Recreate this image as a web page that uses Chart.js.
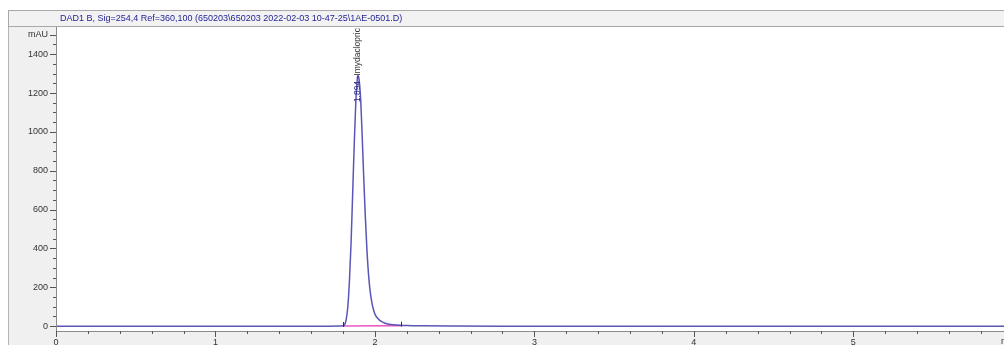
<!DOCTYPE html>
<html>
<head>
<meta charset="utf-8">
<script src="https://cdn.jsdelivr.net/npm/chart.js@4.4.1/dist/chart.umd.min.js"></script>
<style>
  html, body { margin: 0; padding: 0; background: #ffffff; }
  #wrap { width: 1004px; height: 345px; }
</style>
</head>
<body>
<div id="wrap"><canvas id="chromChart" width="1004" height="345"></canvas></div>
<script>
const TITLE = 'DAD1 B, Sig=254,4 Ref=360,100 (650203\\650203 2022-02-03 10-47-25\\1AE-0501.D)';

// retention time (min) and detector signal (mAU)
const times = [0, 0.5, 1.0, 1.5, 1.70, 1.78, 1.80, 1.81, 1.82, 1.83, 1.84, 1.85, 1.86, 1.87, 1.88, 1.89, 1.894,
    1.90, 1.91, 1.92, 1.93, 1.94, 1.95, 1.96, 1.97, 1.98, 1.99, 2.00, 2.02, 2.04, 2.06, 2.08, 2.10, 2.15,
    2.20, 2.30, 2.50, 2.80, 3.5, 4.5, 5.945];
const signal = [0, 0, 0, 0, 0, 0.5, 2, 8, 35, 100, 230, 420, 670, 930, 1150, 1275, 1290,
    1275, 1175, 980, 760, 560, 390, 265, 180, 125, 88, 62, 38, 24, 16, 11, 8, 5,
    3, 1.5, 0.5, 0, 0, 0, 0];

// integration baseline (start / end of the peak)
const baseTimes = [1.80, 2.163];
const baseValues = [1, 2.5];

const peakRT = 1.894;
const peakName = 'Imydaclopric';

const FONT = { family: "'Liberation Sans', Arial, sans-serif", size: 9 };
const TICK_COLOR = '#555555';

const isMultiple = (v, step) => Math.abs(v / step - Math.round(v / step)) < 1e-6;

const framePlugin = {
    id: 'frame',
    beforeDraw(chart) {
        const { ctx, chartArea: a } = chart;
        ctx.save();
        ctx.fillStyle = '#ffffff';
        ctx.fillRect(0, 0, chart.width, chart.height);
        ctx.fillStyle = '#f0f0f0';
        ctx.fillRect(8, 27, chart.width - 8, chart.height - 27);
        ctx.strokeStyle = '#b4b4b4';
        ctx.lineWidth = 1;
        ctx.beginPath();
        ctx.moveTo(8.5, 27);
        ctx.lineTo(8.5, chart.height);
        ctx.stroke();
        ctx.fillStyle = '#ffffff';
        ctx.fillRect(a.left, a.top, a.right - a.left, a.bottom - a.top);

        // title bar
        ctx.fillStyle = '#f2f2f2';
        ctx.fillRect(8, 10, chart.width - 8, 17);
        ctx.strokeStyle = '#a8a8a8';
        ctx.strokeRect(8.5, 10.5, chart.width - 8, 16);
        ctx.fillStyle = '#1e1e96';
        ctx.font = "9px 'Liberation Sans', Arial, sans-serif";
        ctx.textBaseline = 'middle';
        ctx.textAlign = 'left';
        ctx.fillText(TITLE, 60, 19);
        ctx.restore();
    },
    afterDraw(chart) {
        const { ctx, chartArea: a, scales: { x, y } } = chart;
        ctx.save();
        ctx.strokeStyle = '#8a8a8a';
        ctx.lineWidth = 1;
        ctx.beginPath();
        ctx.moveTo(a.left + 0.5, a.top);
        ctx.lineTo(a.left + 0.5, a.bottom + 0.5);
        ctx.lineTo(a.right, a.bottom + 0.5);
        ctx.stroke();

        // tick marks
        ctx.strokeStyle = TICK_COLOR;
        ctx.beginPath();
        y.ticks.forEach(t => {
            if (!isMultiple(t.value, 50)) return;
            const py = Math.round(y.getPixelForValue(t.value)) + 0.5;
            const len = isMultiple(t.value, 200) || t.value === 1500 ? 6 : 3;
            ctx.moveTo(a.left - len, py);
            ctx.lineTo(a.left, py);
        });
        x.ticks.forEach(t => {
            if (!isMultiple(t.value, 0.2)) return;
            const px = Math.round(x.getPixelForValue(t.value)) + 0.5;
            const len = isMultiple(t.value, 1) ? 6 : 3;
            ctx.moveTo(px, a.bottom);
            ctx.lineTo(px, a.bottom + len);
        });
        ctx.stroke();

        ctx.fillStyle = '#333333';
        ctx.font = "9px 'Liberation Sans', Arial, sans-serif";
        ctx.textAlign = 'left';
        ctx.textBaseline = 'middle';
        ctx.fillText('min', a.right - 3, a.bottom + 11);

        // integration start/end marks
        ctx.strokeStyle = '#333333';
        ctx.beginPath();
        baseTimes.forEach((t, i) => {
            const px = Math.round(x.getPixelForValue(t)) + 0.5;
            const py = y.getPixelForValue(baseValues[i]);
            ctx.moveTo(px, py - 4);
            ctx.lineTo(px, py + 1);
        });
        ctx.stroke();

        // peak label
        const px = x.getPixelForValue(peakRT);
        const py = y.getPixelForValue(1153);
        ctx.translate(px, py);
        ctx.rotate(-Math.PI / 2);
        ctx.font = "8.5px 'Liberation Sans', Arial, sans-serif";
        ctx.textAlign = 'left';
        ctx.textBaseline = 'middle';
        ctx.fillStyle = '#2a2a80';
        const rt = peakRT.toFixed(3);
        ctx.fillText(rt, 0, 0);
        ctx.fillStyle = '#333333';
        ctx.fillText(' -' + peakName, ctx.measureText(rt).width, 0);
        ctx.restore();
    }
};

new Chart(document.getElementById('chromChart'), {
    type: 'line',
    data: {
        datasets: [
            {
                data: baseTimes.map((t, i) => ({ x: t, y: baseValues[i] })),
                borderColor: '#ea5fc4',
                borderWidth: 1.6,
                pointRadius: 0,
                order: 1
            },
            {
                data: times.map((t, i) => ({ x: t, y: signal[i] })),
                borderColor: '#5a56b8',
                borderWidth: 1.5,
                pointRadius: 0,
                cubicInterpolationMode: 'monotone',
                order: 0
            }
        ]
    },
    options: {
        responsive: false,
        animation: false,
        devicePixelRatio: 1,
        layout: { padding: { top: 27, left: 0, right: 0, bottom: 0 } },
        plugins: {
            legend: { display: false },
            tooltip: { enabled: false },
            title: { display: false }
        },
        scales: {
            x: {
                type: 'linear',
                min: 0,
                max: 5.945,
                grid: { display: false, drawTicks: false },
                border: { display: false },
                afterFit: (s) => { s.height = 14; },
                ticks: {
                    stepSize: 0.2,
                    includeBounds: false,
                    autoSkip: false,
                    maxRotation: 0,
                    padding: 6,
                    color: '#333333',
                    font: FONT,
                    callback: (v) => isMultiple(v, 1) ? String(Math.round(v)) : ''
                }
            },
            y: {
                min: -25,
                max: 1540,
                grid: { display: false, drawTicks: false },
                border: { display: false },
                afterFit: (s) => { s.width = 56; },
                ticks: {
                    stepSize: 50,
                    includeBounds: false,
                    autoSkip: false,
                    padding: 8,
                    color: '#333333',
                    font: FONT,
                    callback: (v) => v === 1500 ? 'mAU' : (isMultiple(v, 200) ? String(v) : '')
                }
            }
        }
    },
    plugins: [framePlugin]
});
</script>
</body>
</html>
